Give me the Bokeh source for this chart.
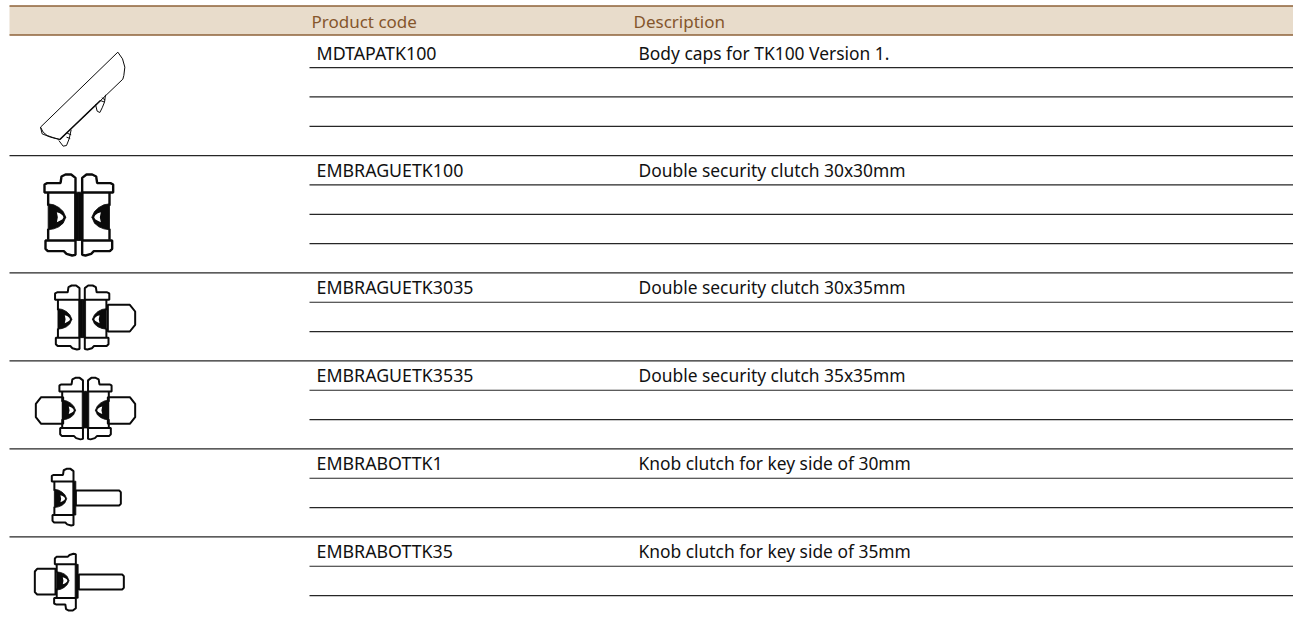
from bokeh.plotting import figure
from bokeh.core.properties import value
from bokeh.embed import file_html
from bokeh.resources import INLINE

# ---- table content ----
header_labels = ["Product code", "Description"]
product_codes = ["MDTAPATK100", "EMBRAGUETK100", "EMBRAGUETK3035",
                 "EMBRAGUETK3535", "EMBRABOTTK1", "EMBRABOTTK35"]
descriptions = ["Body caps for TK100 Version 1.", "Double security clutch 30x30mm",
                "Double security clutch 30x35mm", "Double security clutch 35x35mm",
                "Knob clutch for key side of 30mm", "Knob clutch for key side of 35mm"]
row_line_counts = [4, 4, 3, 3, 3, 3]

# ---- pictogram outlines (drawing units: 1/3 px) ----
cap_outline = [(132,96),(132,72),(140,68),(180,68),(183,48),(195,42),(212,42),(225,52),(225,96)]
foot_outline = [(135,240),(135,265),(142,272),(190,272),(198,280),(215,285),(225,283),(225,240)]
body_side_a = [(143,97),(143,136)]
body_side_b = [(143,205),(143,238)]
center_bar = [(222,95),(235,95),(235,240),(222,240)]
d_outer = [(143,130),(160,133),(175,141),(188,153),(196,170),(188,188),(175,199),(160,205),(143,208)]
d_inner = [(169,155),(178,158),(186,164),(189,170),(186,176),(178,181),(169,185),(172,170)]
cap_body = [(120,380),(352,155),(366,175),(373,200),(370,225),(367,236),(178,417),(150,410),(125,400)]
cap_lines = [[(120,380),(128,395),(140,405),(160,412),(178,417)],
             [(285,312),(290,332),(298,336),(305,322),(312,305),(315,283)],
             [(175,420),(188,437),(198,435),(206,415),(212,388)],
             [(300,300),(312,305)], [(304,292),(314,298)], [(200,398),(212,403)], [(198,410),(209,414)]]
shaft_long = [(0,0),(130,0),(135,5),(135,40),(130,45),(0,45)]
shaft_short = [(0,0),(66,0),(82,20),(82,60),(66,80),(0,80)]
shaft_knob = [(0,0),(-55,0),(-62,8),(-62,70),(-55,77),(0,77)]

band_fill = "#e8dccb"
band_edge = "#8e6239"
head_text = "#85562b"
rule = "#262626"
icon_ink = "#0a0a0a"

WIDTH, HEIGHT = 1293, 620
p = figure(width=WIDTH, height=HEIGHT, x_range=(0, WIDTH), y_range=(HEIGHT, 0),
           output_backend="svg", toolbar_location=None, min_border=0,
           x_axis_location=None, y_axis_location=None, outline_line_color=None,
           margin=0, background_fill_color="white", border_fill_color="white")
p.grid.visible = False

# header band
p.quad(left=[9], right=[WIDTH], top=[5.5], bottom=[34.5], fill_color=band_fill, line_color=None)
p.segment(x0=[9, 9], x1=[WIDTH, WIDTH], y0=[5.5, 34.5], y1=[5.5, 34.5], line_color=band_edge, line_width=1.3)
p.text(x=[311, 633], y=[21, 21], text=header_labels, text_color=head_text,
       text_font=value("Noto Sans"), text_font_size="17px", text_baseline="middle")

# rows
PITCH, BASE = 29.33, 37.8
code_y, rx0, rx1, ry = [], [], [], []
k = 0
for count in row_line_counts:
    code_y.append(BASE + PITCH * (k + 1) - 15)
    for j in range(count):
        k += 1
        y = BASE + PITCH * k
        last = j == count - 1 and k < sum(row_line_counts)
        rx0.append(9 if last else 309)
        rx1.append(WIDTH)
        ry.append(y)
p.segment(x0=rx0, x1=rx1, y0=ry, y1=ry, line_color=rule, line_width=1.2)
p.text(x=[316] * 6, y=code_y, text=product_codes, text_color="#111111",
       text_font=value("Noto Sans"), text_font_size="17.8px", text_baseline="middle")
p.text(x=[638] * 6, y=code_y, text=descriptions, text_color="#111111",
       text_font=value("Noto Sans"), text_font_size="17.4px", text_baseline="middle")

# pictograms
def tf(points, cx, top, s, mirror=False, flip=False, ref_bot=285):
    xs, ys = [], []
    for x, y in points:
        dx = (x - 235) * s
        xs.append((cx - dx if mirror else cx + dx) / 3)
        yy = (ref_bot - y if flip else y - 42) * s
        ys.append((top + yy) / 3)
    return xs, ys

def half(cx, top, s, mirror=False, flip=False, lw=2.0):
    kw = dict(mirror=mirror, flip=flip)
    for shape in (cap_outline, foot_outline):
        xs, ys = tf(shape, cx, top, s, **kw)
        p.patch(xs, ys, fill_color="white", line_color=icon_ink, line_width=lw)
    for shape in (body_side_a, body_side_b):
        xs, ys = tf(shape, cx, top, s, **kw)
        p.line(xs, ys, line_color=icon_ink, line_width=lw)
    xs, ys = tf(center_bar, cx, top, s, **kw)
    p.patch(xs, ys, fill_color=icon_ink, line_color=icon_ink, line_width=0.8)
    xs, ys = tf(d_outer, cx, top, s, **kw)
    p.patch(xs, ys, fill_color=icon_ink, line_color=icon_ink, line_width=0.8)
    xs, ys = tf(d_inner, cx, top, s, **kw)
    p.patch(xs, ys, fill_color="white", line_color=None)

def shaft(points, ox, oy, lw=2.0):
    p.patch([(ox + x) / 3 for x, _ in points], [(oy + y) / 3 for _, y in points],
            fill_color="white", line_color=icon_ink, line_width=lw)

def shaft_mirror(points, ox, oy, lw=2.0):
    p.patch([(ox - x) / 3 for x, _ in points], [(oy + y) / 3 for _, y in points],
            fill_color="white", line_color=icon_ink, line_width=lw)

# icon 1: body cap
p.patch([x / 3 for x, _ in cap_body], [y / 3 for _, y in cap_body], fill_color="white",
        line_color=icon_ink, line_width=1.0)
for line in cap_lines:
    p.line([x / 3 for x, _ in line], [y / 3 for _, y in line], line_color=icon_ink, line_width=1.0)
p.line([178 / 3, 300 / 3], [417 / 3, 300 / 3], line_color=icon_ink, line_width=1.6)

# icon 2
half(235, 522, 1.0, lw=2.4)
half(235, 522, 1.0, mirror=True, lw=2.4)
# icon 3
shaft(shaft_short, 322, 913)
half(245, 855, 0.79)
half(245, 855, 0.79, mirror=True)
# icon 4
shaft(shaft_short, 322, 1190)
shaft_mirror(shaft_short, 188, 1190)
half(255, 1132, 0.76)
half(255, 1132, 0.76, mirror=True)
# icon 5
shaft(shaft_long, 226, 1470)
half(226, 1405, 0.70)
# icon 6
shaft(shaft_knob, 165, 1705)
shaft(shaft_long, 235, 1722)
half(233, 1660, 0.70, flip=True)

open("out.html", "w").write(file_html(p, INLINE))
